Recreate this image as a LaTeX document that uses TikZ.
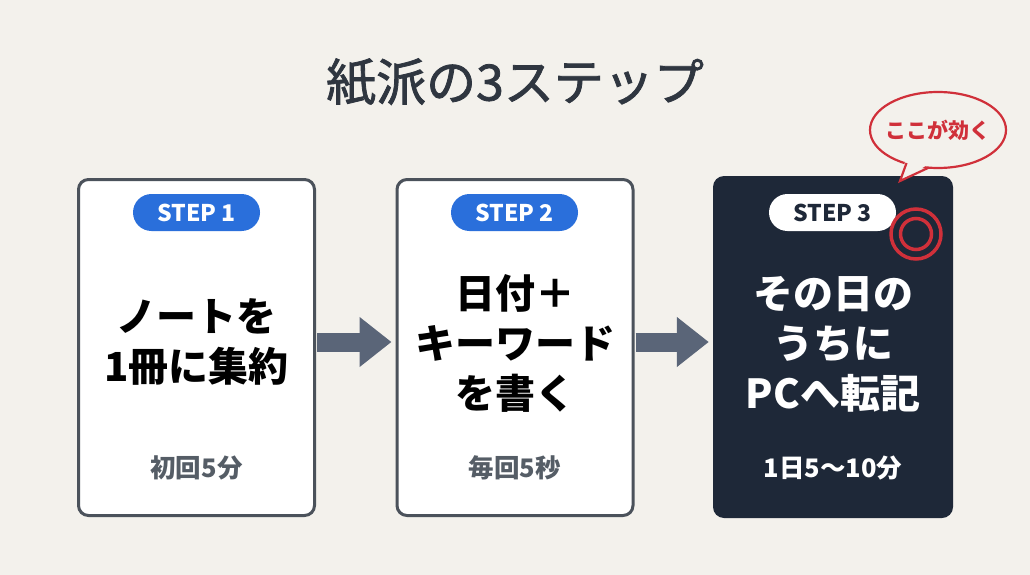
\documentclass[tikz,border=0pt]{standalone}
\usepackage{fontspec}
\setmainfont{Noto Sans CJK JP}
\newfontfamily\titlefont[FakeBold=1.6]{Noto Sans CJK JP}
\usetikzlibrary{arrows.meta,calc}
\definecolor{bg}{HTML}{F3F1EC}
\definecolor{titlec}{HTML}{2F3640}
\definecolor{boxline}{HTML}{4B525B}
\definecolor{navy}{HTML}{1E2838}
\definecolor{stepblue}{HTML}{2A6FDB}
\definecolor{arrowc}{HTML}{5A6578}
\definecolor{subc}{HTML}{555D66}
\definecolor{redc}{HTML}{D0303A}
\tikzset{
  card/.style={draw=boxline, line width=3pt, fill=white, rounded corners=10pt,
    minimum width=236pt, minimum height=336pt, inner sep=0pt},
  darkcard/.style={fill=navy, rounded corners=11pt,
    minimum width=240pt, minimum height=342pt, inner sep=0pt},
  badge/.style={rounded corners=18.5pt, minimum width=127pt, minimum height=37pt,
    inner sep=0pt, font=\fontsize{23}{23}\selectfont\bfseries},
  maintext/.style={align=center, font=\fontsize{40}{50}\selectfont\bfseries, inner sep=0pt},
  subtext/.style={font=\fontsize{25.5}{25.5}\selectfont\bfseries, inner sep=0pt},
  blockarrow/.style={arrowc, line width=19pt, -{Triangle[length=32pt,width=48pt]}}
}
\begin{document}
\begin{tikzpicture}[x=1pt,y=-1pt]
\fill[bg] (0,0) rectangle (1030,575);
\useasboundingbox (0,0) rectangle (1030,575);

\node[font=\titlefont\fontsize{50}{50}\selectfont, text=titlec, inner sep=0pt] (title) at (515,82) {紙派の3ステップ};

\node[card] (b1) at (196.5,347.5) {};
\node[card] (b2) at (515,347.5) {};
\node[darkcard] (b3) at (833,347) {};

\node[badge, fill=stepblue, text=white] (s1) at (196.5,212.5) {STEP 1};
\node[badge, fill=stepblue, text=white] (s2) at (514.5,212.5) {STEP 2};
\node[badge, fill=white, text=navy] (s3) at (832.5,212.5) {STEP 3};

\node[maintext, text=black] (t1) at (196.5,342) {ノートを\\1冊に集約};
\node[maintext, text=black] (t2) at (515,343) {日付＋\\キーワード\\を書く};
\node[maintext, text=white] (t3) at (833,344) {その日の\\うちに\\PCへ転記};

\node[subtext, text=subc] (u1) at (196.5,468) {初回5分};
\node[subtext, text=subc] (u2) at (515,468) {毎回5秒};
\node[subtext, text=white] (u3) at (833,468) {1日5〜10分};

\draw[blockarrow] ([xshift=1pt,yshift=5.5pt]b1.east) -- ([xshift=-4pt,yshift=5.5pt]b2.west);
\draw[blockarrow] ([xshift=1pt,yshift=5.5pt]b2.east) -- ([xshift=-4pt,yshift=5pt]b3.west);

% target mark
\coordinate (tg) at (916,234);
\draw[redc, line width=3.5pt] (tg) circle[radius=25pt];
\draw[redc, line width=3.5pt] (tg) circle[radius=15.5pt];

% speech bubble
\coordinate (bc) at (938,130);
\coordinate (tip) at (900,181);
\filldraw[fill=bg, draw=redc, line width=2.2pt] (bc) ellipse[x radius=68pt, y radius=38pt];
\fill[bg] (906,158) -- (tip) -- (929,164) -- cycle;
\draw[redc, line width=2.2pt, line join=miter] (906.5,163) -- (tip) -- (929,167.5);
\node[text=redc, font=\fontsize{21}{21}\selectfont\bfseries, inner sep=0pt] (bt) at (bc) {ここが効く};
\end{tikzpicture}
\end{document}
